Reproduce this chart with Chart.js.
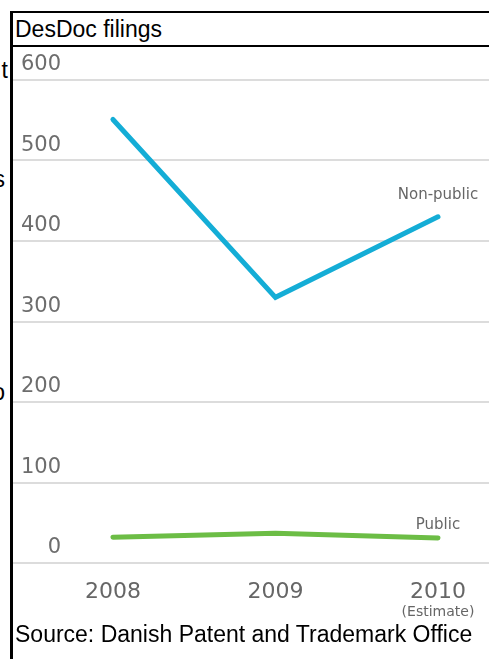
<!DOCTYPE html>
<html>
<head>
<meta charset="utf-8">
<script src="https://cdn.jsdelivr.net/npm/chart.js@4.4.0/dist/chart.umd.min.js"></script>
<style>
  body { margin: 0; background: #fff; width: 489px; height: 659px; overflow: hidden; position: relative; font-family: "Liberation Sans", Arial, sans-serif; color: #000; }
  .frame-left { position: absolute; left: 10px; top: 11px; width: 3px; height: 648px; background: #000; }
  .frame-top { position: absolute; left: 10px; top: 11px; width: 479px; height: 2px; background: #000; }
  .title-rule { position: absolute; left: 10px; top: 45px; width: 479px; height: 2px; background: #000; }
  .txt { position: absolute; font-size: 23px; line-height: 26px; white-space: nowrap; }
  .stray { position: absolute; font-size: 23px; line-height: 26px; text-align: right; }
  #chart-wrap { position: absolute; left: 13px; top: 48px; width: 476px; height: 575px; }
</style>
</head>
<body>
<div class="stray" style="right:481px; top:57px;">t</div>
<div class="stray" style="right:484px; top:166px;">s</div>
<div class="stray" style="right:484px; top:379px;">o</div>
<div class="frame-top"></div>
<div class="frame-left"></div>
<div class="title-rule"></div>
<div class="txt" style="left:15px; top:16px;">DesDoc filings</div>
<div id="chart-wrap"><canvas id="filings-chart" width="476" height="575"></canvas></div>
<div class="txt" style="left:15px; top:621px;">Source: Danish Patent and Trademark Office</div>

<script>
const years = [2008, 2009, 2010];
const yearNotes = ["", "", "(Estimate)"];
const nonPublic = [551, 330, 430];
const publicFilings = [32, 37, 31];
const seriesNames = ["Non-public", "Public"];
const yTicks = [0, 100, 200, 300, 400, 500, 600];

// label lift above the last point, per series
const labelLift = [22, 13];

const endLabels = {
  id: "endLabels",
  afterDatasetsDraw(chart) {
    const ctx = chart.ctx;
    const xScale = chart.scales.x;
    ctx.save();
    ctx.fillStyle = "#666";
    ctx.textAlign = "center";
    ctx.textBaseline = "middle";
    ctx.font = "15px 'DejaVu Sans'";
    chart.data.datasets.forEach((ds, i) => {
      const pts = chart.getDatasetMeta(i).data;
      const last = pts[pts.length - 1];
      ctx.fillText(ds.label, last.x, last.y - labelLift[i]);
    });
    ctx.font = "14px 'DejaVu Sans'";
    years.forEach((yr, i) => {
      if (yearNotes[i]) ctx.fillText(yearNotes[i], xScale.getPixelForValue(yr), xScale.top + 49);
    });
    ctx.restore();
  }
};

const ctx = document.getElementById("filings-chart").getContext("2d");
new Chart(ctx, {
  type: "line",
  data: {
    datasets: [
      {
        label: seriesNames[0],
        data: years.map((yr, i) => ({ x: yr, y: nonPublic[i] })),
        borderColor: "#14add6",
        borderWidth: 5,
        pointRadius: 0,
        tension: 0,
        borderCapStyle: "round"
      },
      {
        label: seriesNames[1],
        data: years.map((yr, i) => ({ x: yr, y: publicFilings[i] })),
        borderColor: "#6cbd45",
        borderWidth: 5,
        pointRadius: 0,
        tension: 0,
        borderCapStyle: "round"
      }
    ]
  },
  options: {
    responsive: false,
    animation: false,
    devicePixelRatio: 1,
    layout: { padding: { top: 32, left: 0, right: 0, bottom: 0 } },
    scales: {
      x: {
        type: "linear",
        min: 2007.385,
        max: 2010.314,
        afterBuildTicks: s => { s.ticks = years.map(v => ({ value: v })); },
        afterFit: s => { s.height = 60; },
        ticks: {
          callback: v => String(v),
          color: "#666",
          font: { family: "DejaVu Sans", size: 22 },
          padding: 8,
          maxRotation: 0
        },
        grid: { display: false },
        border: { display: false }
      },
      y: {
        min: 0,
        max: 600,
        afterBuildTicks: s => { s.ticks = yTicks.map(v => ({ value: v })); },
        afterFit: s => { s.width = 0; },
        ticks: {
          mirror: true,
          crossAlign: "far",
          padding: 8,
          labelOffset: -15,
          color: "#6d6d6d",
          font: { family: "DejaVu Sans", size: 21 }
        },
        grid: { color: "#dcdcdc", lineWidth: 2, drawTicks: false },
        border: { display: false }
      }
    },
    plugins: {
      legend: { display: false },
      tooltip: { enabled: false }
    }
  },
  plugins: [endLabels]
});
</script>
</body>
</html>
